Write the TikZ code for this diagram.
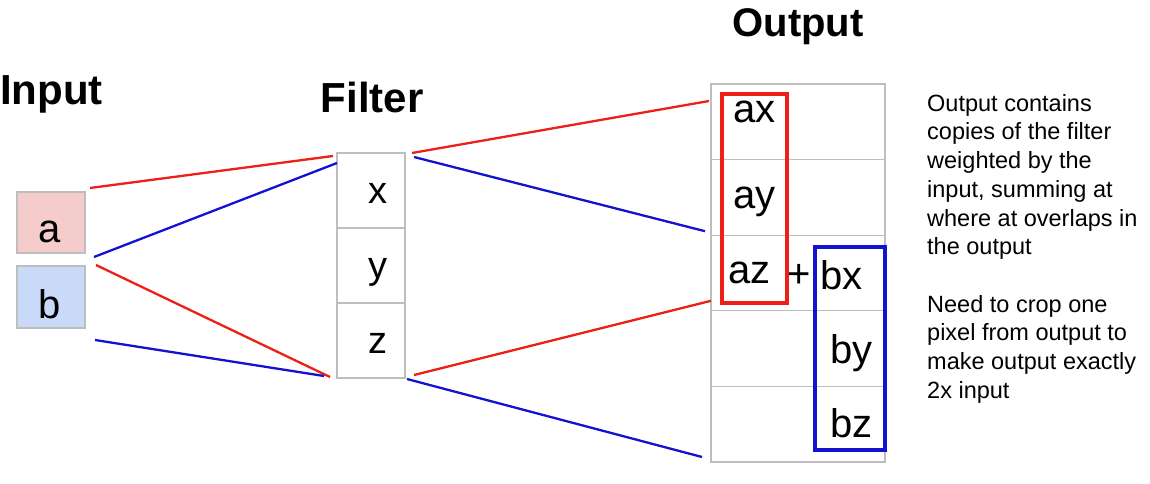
\documentclass[tikz,border=0pt]{standalone}
\usepackage{fontspec}
\setmainfont{Liberation Sans}
\usetikzlibrary{positioning}
\definecolor{lred}{RGB}{236,32,22}
\definecolor{lblue}{RGB}{18,18,208}
\definecolor{cellgray}{RGB}{190,190,190}
\definecolor{inpink}{RGB}{244,204,204}
\definecolor{inblue}{RGB}{201,218,248}
\tikzset{
	cell/.style={draw=cellgray, line width=1.1pt, inner sep=0pt, outer sep=0pt, minimum width=68pt, minimum height=75pt},
	ocell/.style={draw=cellgray, line width=1.1pt, inner sep=0pt, outer sep=0pt, minimum width=174pt, minimum height=75.6pt},
	redline/.style={lred, line width=2.3pt},
	blueline/.style={lblue, line width=2.3pt},
	title/.style={font=\fontsize{42}{50}\selectfont\bfseries, inner sep=0pt},
	big/.style={font=\fontsize{40}{48}\selectfont, inner sep=0pt, anchor=base},
}
\begin{document}
\begin{tikzpicture}[x=1pt, y=-1pt]
	\useasboundingbox (0,0) rectangle (1150,484);
	% titles
	\node[title, anchor=base west] (tin) at (0,105) {Input};
	\node[title, anchor=base] (tfil) at (372,113) {Filter};
	\node[title, font=\fontsize{40}{48}\selectfont\bfseries, anchor=base] (tout) at (798,37) {Output};
	% input cells
	\node[cell, fill=inpink, minimum height=61pt, anchor=north west] (a) at (17,192) {};
	\node[cell, fill=inblue, minimum height=62pt, anchor=north west] (b) at (17,266) {};
	\node[big] (la) at (50,242) {a};
	\node[big] (lb) at (50,318) {b};
	% filter cells
	\node[cell, anchor=north west] (fx) at (337,153) {};
	\node[cell, below=0pt of fx] (fy) {};
	\node[cell, below=0pt of fy] (fz) {};
	\node[big, font=\fontsize{38}{46}\selectfont] (lx) at (378,203) {x};
	\node[big, font=\fontsize{38}{46}\selectfont] (ly) at (378,278) {y};
	\node[big, font=\fontsize{38}{46}\selectfont] (lz) at (378,353) {z};
	% output cells
	\node[ocell, anchor=north west] (o1) at (711,84) {};
	\node[ocell, below=0pt of o1] (o2) {};
	\node[ocell, below=0pt of o2] (o3) {};
	\node[ocell, below=0pt of o3] (o4) {};
	\node[ocell, below=0pt of o4] (o5) {};
	% input to filter
	\draw[redline] ([shift={(5,-4)}]a.north east) -- ([shift={(-4,3)}]fx.north west);
	\draw[blueline] ([shift={(9,4)}]a.south east) -- ([shift={(0,10)}]fx.north west);
	\draw[redline] ([shift={(11,-1)}]b.north east) -- ([shift={(-7,-1)}]fz.south west);
	\draw[blueline] ([shift={(10,12)}]b.south east) -- ([shift={(-13,-2)}]fz.south west);
	% filter to output
	\draw[redline] ([shift={(7,0)}]fx.north east) -- ([shift={(-2,17)}]o1.north west);
	\draw[blueline] ([shift={(9,4)}]fx.north east) -- ([shift={(-6,-4)}]o3.north west);
	\draw[redline] ([shift={(9,-3)}]fz.south east) -- ([shift={(0,-10)}]o3.south west);
	\draw[blueline] ([shift={(2,1)}]fz.south east) -- ([shift={(-9,-5)}]o5.south west);
	% copies of the filter
	\draw[lred, line width=4pt] ([shift={(11,10)}]o1.north west) rectangle ([shift={(76,-8)}]o3.south west);
	\draw[lblue, line width=3.5pt] ([shift={(-70,12)}]o3.north east) rectangle ([shift={(0,-12)}]o5.south east);
	\node[big, anchor=base west] (ax) at (733,123) {ax};
	\node[big, anchor=base west] (ay) at (733,208) {ay};
	\node[big, anchor=base west] (az) at (728,283) {az};
	\node[big, anchor=center] (plus) at (799,276) {+};
	\node[big, anchor=base west] (bx) at (820,289) {bx};
	\node[big, anchor=base west] (by) at (830,363) {by};
	\node[big, anchor=base west] (bz) at (830,437) {bz};
	% note
	\node[anchor=north west, align=left, inner sep=0pt, font=\fontsize{23.5}{28.7}\selectfont] (note) at (927,94)
		{Output contains\\copies of the filter\\weighted by the\\input, summing at\\where at overlaps in\\the output\\[28.7pt]Need to crop one\\pixel from output to\\make output exactly\\2x input};
\end{tikzpicture}
\end{document}
